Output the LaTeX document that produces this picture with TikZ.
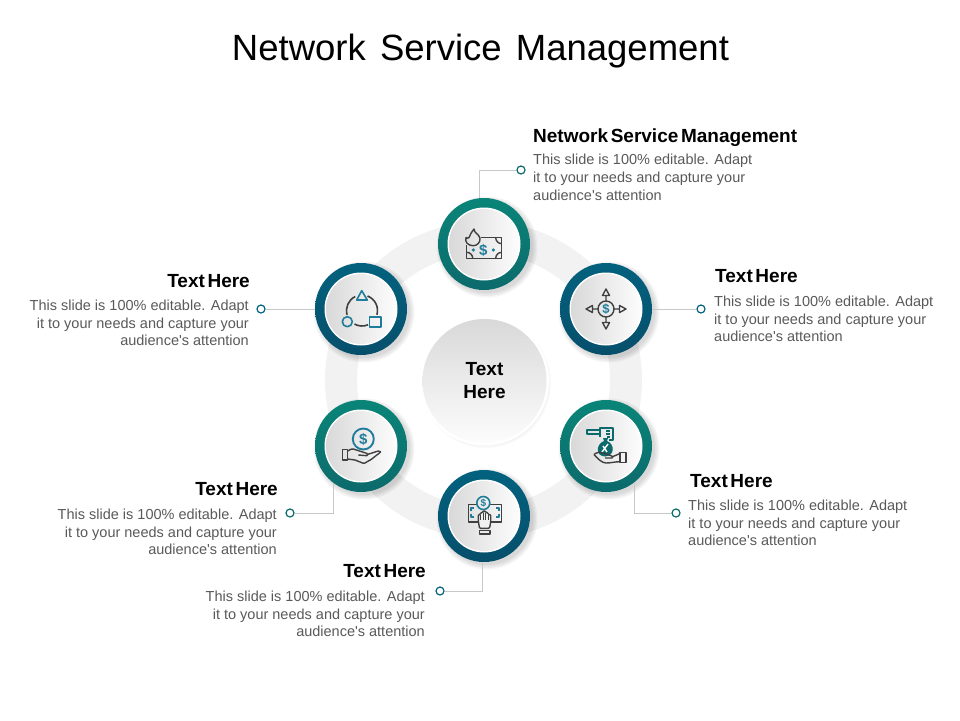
\documentclass[tikz,border=0pt]{standalone}
\usepackage{fontspec}
\setmainfont[WordSpace=1.4]{Liberation Sans}
\newfontfamily\copyfont{Liberation Sans}
\newfontfamily\headfont[UprightFont=* Bold, WordSpace=0.5]{Liberation Sans}
\usetikzlibrary{positioning}

\definecolor{tealring}{HTML}{0A8578}
\definecolor{tealdark}{HTML}{0C6A6C}
\definecolor{bluering}{HTML}{03627F}
\definecolor{bluedark}{HTML}{064F6B}
\definecolor{iconblue}{HTML}{1F7C9A}
\definecolor{icondark}{HTML}{404040}
\definecolor{bandgrey}{HTML}{F2F2F2}
\definecolor{wiregrey}{HTML}{C8C8C8}
\definecolor{copygrey}{HTML}{595959}

\newcommand{\slidecopy}{This slide is 100\% editable.\hspace{5.5pt}Adapt\\it to your needs and capture your\\audience's attention}

\tikzset{
    tealband/.style={circle, inner sep=0pt, minimum size=92pt, shading angle=125, top color=tealring, bottom color=tealdark},
    blueband/.style={circle, inner sep=0pt, minimum size=92pt, shading angle=125, top color=bluering, bottom color=bluedark},
    rim/.style={circle, inner sep=0pt, minimum size=73pt, fill=white},
    disc/.style={circle, inner sep=0pt, minimum size=70pt, left color=black!15, right color=black!1},
    heading/.style={inner sep=0pt, font=\headfont\fontsize{19}{21}\selectfont, text=black},
    copyleft/.style={inner sep=0pt, align=left, text=copygrey, font=\copyfont\fontsize{14.5}{17.6}\selectfont},
    copyright/.style={inner sep=0pt, align=right, text=copygrey, font=\copyfont\fontsize{14.5}{17.6}\selectfont},
    tealdot/.style={circle, draw=tealdark, fill=white, line width=1.2pt, inner sep=0pt, minimum size=8pt},
    bluedot/.style={circle, draw=bluering, fill=white, line width=1.2pt, inner sep=0pt, minimum size=8pt},
    wire/.style={draw=wiregrey, line width=0.7pt},
    darkline/.style={draw=icondark, line width=1.4pt, line join=round},
    blueline/.style={draw=iconblue, line width=1.6pt, line join=round},
    tealline/.style={draw=tealdark, line width=1.3pt, line join=round},
    cash/.style={text=iconblue, inner sep=0pt, font=\headfont\fontsize{#1}{#1}\selectfont},
}

\begin{document}
\begin{tikzpicture}[x=1pt, y=-1pt]
    \useasboundingbox (0,0) rectangle (960,720);
    \node[font=\fontsize{36.5}{40}\selectfont, inner sep=0pt] (title) at (480.5,51.5) {Network Service Management};

    % grey band behind the circles
    \fill[bandgrey, even odd rule] (483.5,380) circle (158.5) circle (126.5);

    % soft shadows
    \foreach \cx/\cy in {484/244, 606/309, 606/446, 484/516, 361/446, 361/309}
        \foreach \rad in {46, 47.5, 49, 50.5}
            \fill[black, opacity=0.04] (\cx+3,\cy+3) circle (\rad);
    \foreach \rad in {62, 63.5, 65}
        \fill[black, opacity=0.025] (486,383) circle (\rad);

    % centre
    \node[circle, inner sep=0pt, minimum size=129pt, fill=white] (hubrim) at (484.5,381) {};
    \node[circle, inner sep=0pt, minimum size=124pt, shading angle=135, top color=black!15, bottom color=black!1, align=center, font=\headfont\fontsize{19}{23}\selectfont] (hub) at (484.5,381) {Text\\Here};

    % circles
    \foreach \name/\cx/\cy/\band in {A/484/244/tealband, B/606/309/blueband, C/606/446/tealband, D/484/516/blueband, E/361/446/tealband, F/361/309/blueband} {
        \node[\band] (band\name) at (\cx,\cy) {};
        \node[rim] (rim\name) at (\cx,\cy) {};
        \node[disc] (disc\name) at (\cx,\cy) {};
    }

    % labels
    \node[heading, anchor=west] (headA) at (533,138) {Network Service Management};
    \node[copyleft, below right=7pt and 0pt of headA.south west] (copyA) {\slidecopy};
    \node[heading, anchor=west] (headB) at (715,276) {Text Here};
    \node[copyleft, anchor=north west] (copyB) at (714,296) {\slidecopy};
    \node[heading, anchor=west] (headC) at (690,481) {Text Here};
    \node[copyleft, anchor=north west] (copyC) at (688,500) {\slidecopy};
    \node[heading, anchor=east] (headD) at (426,571) {Text Here};
    \node[copyright, anchor=north east] (copyD) at (425,591) {\slidecopy};
    \node[heading, anchor=east] (headE) at (278,489) {Text Here};
    \node[copyright, anchor=north east] (copyE) at (277,509) {\slidecopy};
    \node[heading, anchor=east] (headF) at (250,281) {Text Here};
    \node[copyright, anchor=north east] (copyF) at (249,300) {\slidecopy};

    % connectors
    \node[tealdot] (dotA) at (521,170) {};
    \node[bluedot] (dotB) at (701,309) {};
    \node[tealdot] (dotC) at (676,513) {};
    \node[bluedot] (dotD) at (440,591) {};
    \node[tealdot] (dotE) at (290,513) {};
    \node[bluedot] (dotF) at (261,309) {};
    \draw[wire] (dotA) -| (bandA.96);
    \draw[wire] (bandB) -- (dotB);
    \draw[wire] (dotC) -| (bandC.-52.5);
    \draw[wire] (dotD) -| (bandD.268);
    \draw[wire] (dotE) -| (bandE.-127.5);
    \draw[wire] (dotF) -- (bandF);

    % money on fire
    \begin{scope}[shift={(484,248)}]
        \draw[darkline] (-3,-10.3) -- (17.7,-10.3) -- (17.7,10.3) -- (-17.3,10.3) -- (-17.3,-3);
        \draw[darkline] (11.7,-10.3) .. controls (11.7,-7) and (14.5,-4.3) .. (17.7,-4.3);
        \draw[darkline] (11.7,10.3) .. controls (11.7,7) and (14.5,4.3) .. (17.7,4.3);
        \draw[darkline] (-11.3,10.3) .. controls (-11.3,7) and (-14,4.3) .. (-17.3,4.3);
        \draw[darkline] (-10.7,-2.3) .. controls (-16,-2.3) and (-19.5,-6) .. (-18,-10.5) .. controls (-17,-9.5) and (-16,-9.5) .. (-15,-10.5) .. controls (-14,-14) and (-12,-16) .. (-10,-19) .. controls (-10,-15) and (-5,-14) .. (-4,-9.7) .. controls (-3.5,-5.5) and (-7,-2.3) .. (-10.7,-2.3);
        \node[cash=15] (cashA) at (-0.7,2) {\$};
        \fill[iconblue] (-10.7,2) circle (1.8);
        \fill[iconblue] (9.3,2) circle (1.8);
    \end{scope}

    % money going four ways
    \begin{scope}[shift={(606,309)}]
        \draw[darkline] (0,0) circle (8);
        \node[cash=13] (cashB) at (0,0) {\$};
        \foreach \ang in {0,90,180,270}
            \draw[darkline, rotate=\ang] (8,0) -- (13.5,0) (13.5,-3.5) -- (20,0) -- (13.5,3.5) -- cycle;
    \end{scope}

    % bag dropping in the hand
    \begin{scope}[shift={(606,446)}]
        \draw[tealline] (-6,-16) -- (-19,-16) -- (-19,-12) -- (-6,-12);
        \draw[tealline] (-6,-9) -- (-6,-18) -- (7,-18) -- (7,-6) -- (3,-6);
        \draw[tealline] (0,-15) -- (4,-15) (0,-12) -- (4,-12) (1,-9) -- (4,-9);
        \fill[tealdark] (-3,-8) -- (2,-8) -- (1,-5) .. controls (9,-2) and (9,10) .. (-1,10.5) .. controls (-11,10) and (-10,-2) .. (-2,-5) -- cycle;
        \draw[white, line width=1.4pt] (-4,6) -- (2,-2) (-3,0) -- (1,6);
        \draw[darkline] (-12,8.5) .. controls (-9,6) and (-6,6) .. (-3,7) -- (3,9) .. controls (7,10) and (8,12) .. (6,12) -- (-1,12);
        \draw[darkline] (7,10.5) -- (14,7.5);
        \draw[darkline] (-12,8.5) .. controls (-8,13) and (-4,17) .. (0,17) .. controls (5,17) and (9,15.7) .. (14,15.7);
        \draw[darkline] (14,6.3) rectangle (20,16.7);
    \end{scope}

    % coin over open hand
    \begin{scope}[shift={(361,446)}]
        \draw[blueline, line width=1.9pt] (2.3,-7) circle (10.5);
        \node[cash=15] (cashE) at (2.3,-7) {\$};
        \draw[darkline] (-18.7,3.3) rectangle (-13.3,14);
        \draw[darkline] (-13.3,5) .. controls (-11,3) and (-9,3) .. (-7.7,3) -- (0.7,5.7) -- (5.7,7.3) .. controls (7,8) and (7,9.7) .. (5.7,9.7) -- (-2.7,9);
        \draw[darkline] (6.3,8.5) -- (17.3,5) .. controls (20,5) and (20,6.5) .. (18.5,7) .. controls (13,11) and (10,14) .. (7.3,15) .. controls (5,17) and (3,17.3) .. (2.3,17.3) -- (-6,14) -- (-13.3,13);
    \end{scope}

    % hand on a note
    \begin{scope}[shift={(484,516)}]
        \draw[darkline] (-7,-11.5) -- (-15.7,-11.5) -- (-15.7,6) -- (-6,6) (6,-11.5) -- (17.7,-11.5) -- (17.7,6) -- (7,6);
        \draw[blueline] (-0.7,-13) circle (6.5);
        \node[cash=10] (cashD) at (-0.7,-13) {\$};
        \draw[blueline, line width=1.1pt] (-13,-5) -- (-13,-8) -- (-10,-8) (-13,-2) -- (-13,1) -- (-10,1) (15,-5) -- (15,-8) -- (12,-8) (15,-2) -- (15,1) -- (12,1);
        \draw[darkline, fill=black!6, rounded corners=1] (-4.5,12.3) -- (-5.7,5) -- (-5.7,-1.5) -- (-3.3,-1.5) -- (-3.3,-3.5) -- (-1,-3.5) -- (-1,-5) -- (1.5,-5) -- (1.5,-3.5) -- (4,-3.5) -- (4,-1.5) -- (6.7,-1.5) -- (6.7,6) -- (5.5,12.3) -- cycle;
        \draw[darkline, line width=0.9pt] (-3.3,-1.5) -- (-3.3,4) (-1,-3.5) -- (-1,4) (1.5,-3.5) -- (1.5,4) (4,-1.5) -- (4,4);
        \draw[darkline] (-4.7,14.5) rectangle (6,18);
    \end{scope}

    % three shapes on a loop
    \begin{scope}[shift={(361,309)}]
        \draw[darkline, line width=1.6pt] (1,1.5) ++(244:15.5) arc (244:164:15.5);
        \draw[darkline, line width=1.6pt] (1,1.5) ++(291:15.5) arc (291:376:15.5);
        \draw[darkline, line width=1.6pt] (1,1.5) ++(119:15.5) arc (119:67:15.5);
        \draw[blueline] (0.7,-18.3) -- (6.3,-9) -- (-4.3,-9) -- cycle;
        \draw[blueline] (-13.7,12.7) circle (5);
        \draw[blueline] (8.3,7.7) rectangle (19.7,17.7);
    \end{scope}
\end{tikzpicture}
\end{document}
